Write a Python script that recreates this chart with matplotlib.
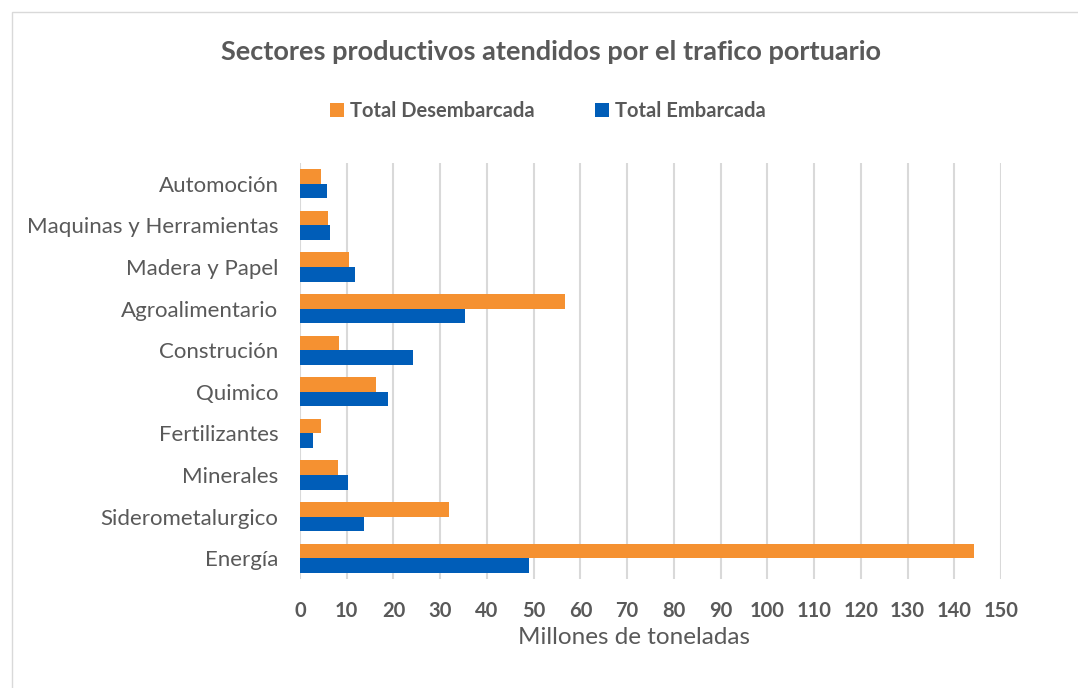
import matplotlib.pyplot as plt
from matplotlib.patches import Rectangle
import numpy as np

categories = ['Energía', 'Siderometalurgico', 'Minerales', 'Fertilizantes', 'Quimico',
              'Construción', 'Agroalimentario', 'Madera y Papel',
              'Maquinas y Herramientas', 'Automoción']
desembarcada = [144.2, 31.9, 8.1, 4.5, 16.2, 8.4, 56.7, 10.4, 5.9, 4.5]
embarcada = [49.1, 13.7, 10.3, 2.8, 18.9, 24.1, 35.3, 11.7, 6.4, 5.7]
xticks = list(range(0, 151, 10))

orange = '#F59131'
blue = '#005DB8'
grey = '#595959'

plt.rcParams['font.family'] = ['Lato', 'DejaVu Sans']

fig = plt.figure(figsize=(10.78, 6.88), dpi=100)
W, H = 1078, 688
ax = fig.add_axes([300 / W, 1 - 579 / H, 701 / W, 416 / H])

# outer chart border
fig.patches.append(Rectangle((12 / W, -0.01), 1.1, 1 - 12 / H + 0.01, transform=fig.transFigure,
                             fill=False, edgecolor='#d9d9d9', linewidth=1))

y = np.arange(len(categories))
h = 0.35
ax.barh(y + h / 2, desembarcada, height=h, color=orange, label='Total Desembarcada', zorder=3)
ax.barh(y - h / 2, embarcada, height=h, color=blue, label='Total Embarcada', zorder=3)

ax.set_xlim(0, 150)
ax.set_ylim(-0.5, len(categories) - 0.5)
ax.set_xticks(xticks)
ax.set_xticklabels([str(t) for t in xticks], fontsize=14.5, fontweight='bold', color=grey)
ax.set_yticks(y)
ax.set_yticklabels(categories, fontsize=16, color=grey)
ax.tick_params(length=0)
ax.tick_params(axis='x', pad=16)
ax.tick_params(axis='y', pad=15.5)
ax.grid(axis='x', color='#d9d9d9', linewidth=1.5, zorder=0)
for s in ax.spines.values():
    s.set_visible(False)
ax.set_xlabel('Millones de toneladas', fontsize=17.5, color=grey)
ax.xaxis.set_label_coords((634 - 300) / 701, -(637 - 579) / 416)
ax.xaxis.label.set_va('center')

fig.text(551 / W, 1 - 52 / H, 'Sectores productivos atendidos por el trafico portuario',
         ha='center', va='center', fontsize=19.5, fontweight='bold', color=grey)

leg = fig.legend(loc='center', bbox_to_anchor=(548 / W, 1 - 111 / H), ncol=2, frameon=False,
                 fontsize=14.5, handlelength=0.7, handleheight=0.7, handletextpad=0.3,
                 columnspacing=3.0)
for t in leg.get_texts():
    t.set_color(grey)
    t.set_fontweight('bold')

fig.savefig('out.png', dpi=100)
